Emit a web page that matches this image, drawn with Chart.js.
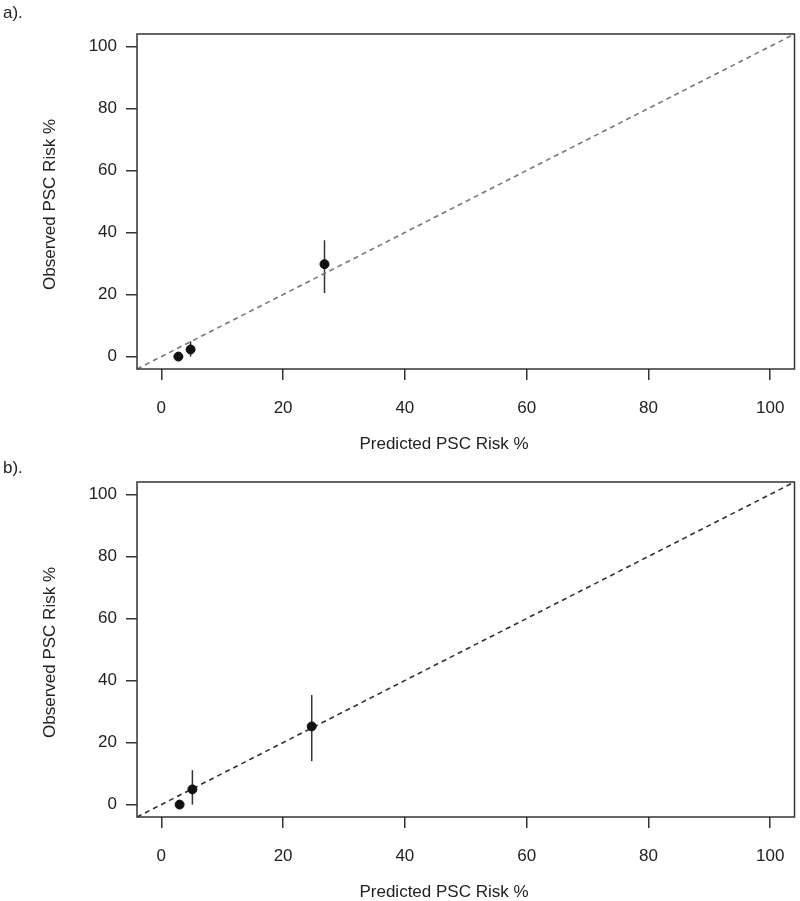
<!DOCTYPE html>
<html>
<head>
<meta charset="utf-8">
<script src="https://cdn.jsdelivr.net/npm/chart.js@4/dist/chart.umd.min.js"></script>
<style>
  body { margin: 0; background: #fff; }
  .panel { position: absolute; left: 0; width: 800px; height: 450px; }
</style>
</head>
<body>
<div class="panel" style="top:0"><canvas id="chartA" width="800" height="450"></canvas></div>
<div class="panel" style="top:448px"><canvas id="chartB" width="800" height="450"></canvas></div>
<script>
// calibration plots, observed vs predicted PSC risk

const axisRange = [-4, 104];
const tickStep = 20;
const xTitle = 'Predicted PSC Risk %';
const yTitle = 'Observed PSC Risk %';

// panel a
const predictedA = [2.8, 4.8, 26.8];
const observedA = [0, 2.3, 29.8];
const lowerA = [0, 0, 20.5];
const upperA = [0, 4.9, 37.5];

// panel b
const predictedB = [3.0, 5.1, 24.7];
const observedB = [0, 4.9, 25.2];
const lowerB = [0, 0, 14.0];
const upperB = [0, 11.1, 35.3];

const FONT = "'Liberation Sans', Arial, sans-serif";
const INK = '#222';

const framePlugin = {
    id: 'frame',
    beforeDatasetsDraw(chart, args, opts) {
        // error bars
        const ctx = chart.ctx;
        const xs = chart.scales.x, ys = chart.scales.y;
        ctx.save();
        ctx.strokeStyle = '#333';
        ctx.lineWidth = 1.5;
        opts.x.forEach((v, i) => {
            if (opts.hi[i] === opts.lo[i]) return;
            const px = xs.getPixelForValue(v);
            ctx.beginPath();
            ctx.moveTo(px, ys.getPixelForValue(opts.lo[i]));
            ctx.lineTo(px, ys.getPixelForValue(opts.hi[i]));
            ctx.stroke();
        });
        ctx.restore();
    },
    afterDraw(chart, args, opts) {
        const ctx = chart.ctx;
        const a = chart.chartArea;
        ctx.save();
        ctx.strokeStyle = '#333';
        ctx.lineWidth = 1.5;
        ctx.strokeRect(a.left, a.top, a.right - a.left, a.bottom - a.top);

        ctx.fillStyle = INK;
        ctx.font = '17px ' + FONT;
        ctx.textBaseline = 'middle';
        ctx.textAlign = 'left';
        ctx.fillText(opts.label, 3, opts.labelY);

        ctx.textAlign = 'center';
        ctx.fillText(xTitle, 444, a.bottom + 75);

        ctx.translate(50, (a.top + a.bottom) / 2 + 3);
        ctx.rotate(-Math.PI / 2);
        ctx.fillText(yTitle, 0, 0);
        ctx.restore();
    }
};

function makeChart(id, xs, ys, lo, hi, label, labelY, dashColor) {
    const ctx = document.getElementById(id);
    if (!ctx) return;

    const tickCfg = {
        stepSize: tickStep,
        includeBounds: false,
        color: INK,
        font: { family: FONT, size: 17 }
    };
    const gridCfg = {
        drawOnChartArea: false,
        drawTicks: true,
        tickLength: 11,
        color: '#333',
        lineWidth: 1.5
    };

    new Chart(ctx, {
        type: 'scatter',
        data: {
            datasets: [{
                data: xs.map((v, i) => ({ x: v, y: ys[i] })),
                backgroundColor: '#111',
                borderColor: '#111',
                pointRadius: 4.5,
                pointHoverRadius: 4.5
            }, {
                type: 'line',
                data: axisRange.map(v => ({ x: v, y: v })),
                borderColor: dashColor,
                borderWidth: 1.6,
                borderDash: [5, 4],
                pointRadius: 0,
                fill: false
            }]
        },
        options: {
            responsive: false,
            animation: false,
            devicePixelRatio: 1,
            layout: { padding: { top: 34, right: 3, left: 0, bottom: 0 } },
            plugins: {
                legend: { display: false },
                tooltip: { enabled: false },
                frame: { x: xs, lo: lo, hi: hi, label: label, labelY: labelY }
            },
            scales: {
                x: {
                    type: 'linear',
                    min: axisRange[0],
                    max: axisRange[1],
                    border: { display: false },
                    grid: gridCfg,
                    ticks: Object.assign({ padding: 18, maxRotation: 0 }, tickCfg),
                    afterFit: s => {
                        s.height = 81;
                        s.paddingLeft = 0;
                        s.paddingRight = 0;
                    }
                },
                y: {
                    type: 'linear',
                    min: axisRange[0],
                    max: axisRange[1],
                    border: { display: false },
                    grid: gridCfg,
                    ticks: Object.assign({ padding: 9 }, tickCfg),
                    afterFit: s => {
                        s.width = 137;
                        s.paddingTop = 0;
                        s.paddingBottom = 0;
                    }
                }
            }
        },
        plugins: [framePlugin]
    });
}

makeChart('chartA', predictedA, observedA, lowerA, upperA, 'a).', 13, '#777');
makeChart('chartB', predictedB, observedB, lowerB, upperB, 'b).', 20, '#333');
</script>
</body>
</html>
